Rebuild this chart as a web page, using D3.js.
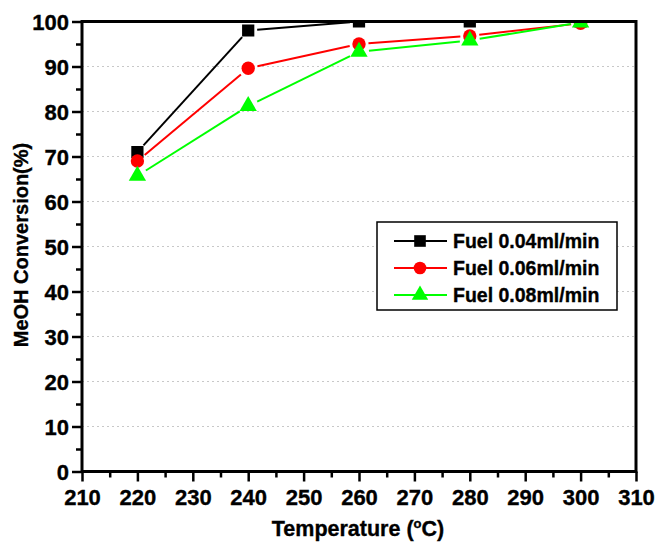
<!DOCTYPE html>
<html>
<head>
<meta charset="utf-8">
<script src="https://cdn.jsdelivr.net/npm/d3@7"></script>
<style>
  body { margin: 0; background: #fff; }
  text { font-family: "Liberation Sans", Arial, sans-serif; font-weight: bold; fill: #000; stroke: #000; stroke-width: 0.35px; }
</style>
</head>
<body>
<svg id="chart" width="656" height="545"></svg>
<script>
// temperatures (°C)
var temps = [220, 240, 260, 280, 300];
// MeOH conversion (%) per fuel flow
var fuel004 = [71, 98, 100, 100, 100];
var fuel006 = [69, 89.6, 95, 96.8, 99.6];
var fuel008 = [65.7, 81.2, 93.3, 95.8, 99.8];
var seriesNames = ["Fuel 0.04ml/min", "Fuel 0.06ml/min", "Fuel 0.08ml/min"];
var xTicks = [210, 220, 230, 240, 250, 260, 270, 280, 290, 300, 310];
var yTicks = [0, 10, 20, 30, 40, 50, 60, 70, 80, 90, 100];

var svg = d3.select("#chart");
var plotL = 82, plotR = 636, plotT = 21.5, plotB = 471.5;

var x = d3.scaleLinear().domain([210, 310]).range([plotL, plotR]);
var y = d3.scaleLinear().domain([0, 100]).range([plotB, plotT]);

svg.append("defs").append("clipPath").attr("id", "plotclip")
  .append("rect").attr("x", plotL).attr("y", plotT)
  .attr("width", plotR - plotL).attr("height", plotB - plotT);

// dotted grid
svg.append("g").selectAll("line").data(yTicks.slice(1, -1)).enter().append("line")
  .attr("x1", plotL).attr("x2", plotR)
  .attr("y1", d => y(d)).attr("y2", d => y(d))
  .attr("stroke", "#c8c8c8").attr("stroke-width", 1).attr("stroke-dasharray", "2,3");

// axes
var xAxis = svg.append("g").attr("transform", "translate(0," + plotB + ")")
  .call(d3.axisBottom(x).tickValues(xTicks).tickSize(10).tickPadding(9));
var xMinor = svg.append("g").attr("transform", "translate(0," + plotB + ")")
  .call(d3.axisBottom(x).tickValues(d3.range(215, 310, 10)).tickSize(6).tickFormat(""));
var yAxis = svg.append("g").attr("transform", "translate(" + plotL + ",0)")
  .call(d3.axisLeft(y).tickValues(yTicks).tickSize(10).tickPadding(3));
var yMinor = svg.append("g").attr("transform", "translate(" + plotL + ",0)")
  .call(d3.axisLeft(y).tickValues(d3.range(5, 100, 10)).tickSize(6).tickFormat(""));

[xAxis, xMinor, yAxis, yMinor].forEach(function(g) {
  g.attr("font-size", 22).attr("font-family", "'Liberation Sans', Arial, sans-serif")
    .attr("font-weight", "bold");
  g.select(".domain").remove();
  g.selectAll("line").attr("stroke", "#000").attr("stroke-width", 2.5);
  g.selectAll("text").style("font-size", "22px").attr("fill", "#000");
});
yAxis.selectAll("text").attr("dy", "0.36em");
xAxis.selectAll("text").attr("dy", "0.68em");

// series
var series = [
  { name: seriesNames[0], values: fuel004, color: "#000000", shape: d3.symbolSquare, size: 150, r: 6 },
  { name: seriesNames[1], values: fuel006, color: "#ff0000", shape: d3.symbolCircle, size: 140, r: 6.5 },
  { name: seriesNames[2], values: fuel008, color: "#00ff00", shape: d3.symbolTriangle, size: 130, r: 7 }
];

var plot = svg.append("g").attr("clip-path", "url(#plotclip)");

series.forEach(function(s) {
  var pts = temps.map((t, i) => [x(t), y(s.values[i])]);
  // line broken around each symbol
  var segs = d3.pairs(pts).map(function(p) {
    var dx = p[1][0] - p[0][0], dy = p[1][1] - p[0][1];
    var len = Math.sqrt(dx * dx + dy * dy), gap = s.r + 3;
    if (len <= 2 * gap) return null;
    var ux = dx / len, uy = dy / len;
    return [[p[0][0] + ux * gap, p[0][1] + uy * gap], [p[1][0] - ux * gap, p[1][1] - uy * gap]];
  }).filter(d => d);
  plot.append("g").selectAll("line").data(segs).enter().append("line")
    .attr("x1", d => d[0][0]).attr("y1", d => d[0][1])
    .attr("x2", d => d[1][0]).attr("y2", d => d[1][1])
    .attr("stroke", s.color).attr("stroke-width", 2);
  plot.append("g").selectAll("path").data(pts).enter().append("path")
    .attr("transform", d => "translate(" + d[0] + "," + d[1] + ")")
    .attr("d", d3.symbol().type(s.shape).size(s.size))
    .attr("fill", s.color);
});

// frame
svg.append("rect").attr("x", plotL).attr("y", plotT)
  .attr("width", plotR - plotL).attr("height", plotB - plotT)
  .attr("fill", "none").attr("stroke", "#000").attr("stroke-width", 3);

// legend
var legend = svg.append("g").attr("transform", "translate(377,222)");
legend.append("rect").attr("width", 240).attr("height", 88)
  .attr("fill", "#fff").attr("stroke", "#000").attr("stroke-width", 1.5);
series.forEach(function(s, i) {
  var ly = 19 + i * 27;
  legend.append("line").attr("x1", 17).attr("x2", 70).attr("y1", ly).attr("y2", ly)
    .attr("stroke", s.color).attr("stroke-width", 2);
  legend.append("path").attr("transform", "translate(43," + ly + ")")
    .attr("d", d3.symbol().type(s.shape).size(s.size * 0.9)).attr("fill", s.color);
  legend.append("text").attr("x", 76).attr("y", ly).attr("dy", "0.36em")
    .style("font-size", "19.5px").text(s.name);
});

// axis titles
var xt = svg.append("text").attr("x", 358).attr("y", 536).attr("text-anchor", "middle")
  .style("font-size", "21.5px");
xt.append("tspan").text("Temperature (");
xt.append("tspan").attr("dy", -8).style("font-size", "13px").text("o");
xt.append("tspan").attr("dy", 8).text("C)");

svg.append("text").attr("transform", "translate(28,245) rotate(-90)")
  .attr("text-anchor", "middle").style("font-size", "20px").text("MeOH Conversion(%)");
</script>
</body>
</html>
